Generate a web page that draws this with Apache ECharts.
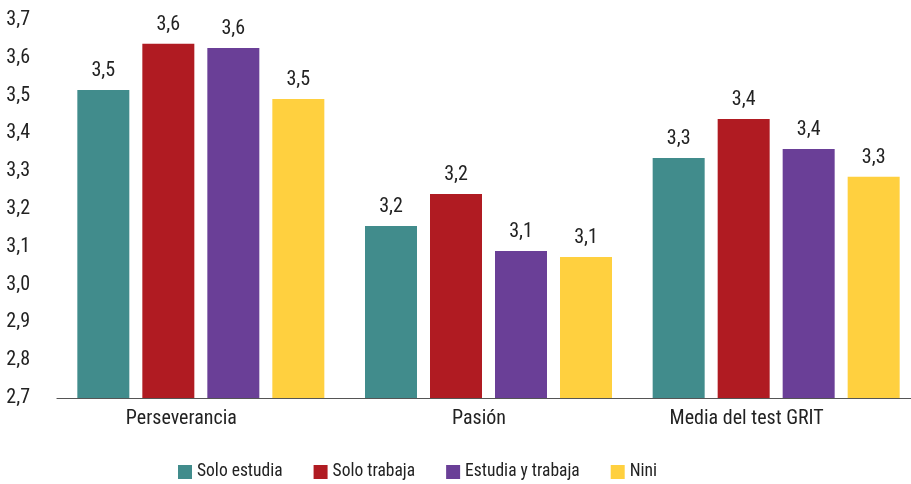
<!DOCTYPE html>
<html>
<head>
<meta charset="utf-8">
<script src="https://cdn.jsdelivr.net/npm/echarts@6/dist/echarts.min.js"></script>
<style>html,body{margin:0;padding:0;background:#fff;overflow:hidden;}#c{width:920px;height:484px;}</style>
</head>
<body>
<div id="c"></div>
<script>
const categories = ['Perseverancia', 'Pasión', 'Media del test GRIT'];
const seriesNames = ['Solo estudia', 'Solo trabaja', 'Estudia y trabaja', 'Nini'];
const soloEstudia = [3.515, 3.155, 3.335];
const soloTrabaja = [3.637, 3.240, 3.438];
const estudiaYTrabaja = [3.626, 3.089, 3.359];
const nini = [3.491, 3.073, 3.285];
const colors = ['#418C8C', '#B01B22', '#6A3F97', '#FFD03F'];

const FONT = '"Roboto Condensed", "DejaVu Sans Condensed", sans-serif';
const FS = 20;
const TXT = '#222';
const chart = echarts.init(document.getElementById('c'));
const allData = [soloEstudia, soloTrabaja, estudiaYTrabaja, nini];
const fmt = v => v.toFixed(1).replace('.', ',');
chart.setOption({
  animation: false,
  textStyle: { fontFamily: FONT },
  grid: { left: 57, right: 0, top: 20, bottom: 86 },
  legend: {
    left: 173, top: 458,
    itemWidth: 14, itemHeight: 14, itemGap: 31,
    icon: 'rect',
    textStyle: { fontFamily: FONT, fontSize: 17.5, color: TXT },
    data: seriesNames
  },
  xAxis: {
    type: 'category',
    data: categories,
    axisLine: { lineStyle: { color: '#555', width: 1.2 } },
    axisTick: { show: false },
    axisLabel: {
      margin: 11,
      formatter: (v, i) => ['{a|', '{b|', '{c|'][i] + v + '}',
      rich: {
        a: { fontFamily: FONT, fontSize: FS, color: TXT, padding: [0, 39, 0, 0] },
        b: { fontFamily: FONT, fontSize: FS, color: TXT, padding: [0, 19, 0, 0] },
        c: { fontFamily: FONT, fontSize: FS, color: TXT, padding: [0, 59, 0, 0] }
      }
    }
  },
  yAxis: {
    type: 'value',
    min: 2.7, max: 3.7, interval: 0.1,
    splitLine: { show: false },
    axisLine: { show: false },
    axisTick: { show: false },
    axisLabel: {
      margin: 27,
      fontFamily: FONT, fontSize: FS, color: TXT,
      formatter: v => fmt(v)
    }
  },
  series: seriesNames.map((n, i) => ({
    name: n,
    type: 'bar',
    data: allData[i],
    barWidth: 52,
    barGap: '25%',
    itemStyle: { color: colors[i] },
    label: {
      show: true, position: 'top', distance: 9,
      fontFamily: FONT, fontSize: FS, color: TXT,
      formatter: p => fmt(p.value)
    }
  }))
});
</script>
</body>
</html>
